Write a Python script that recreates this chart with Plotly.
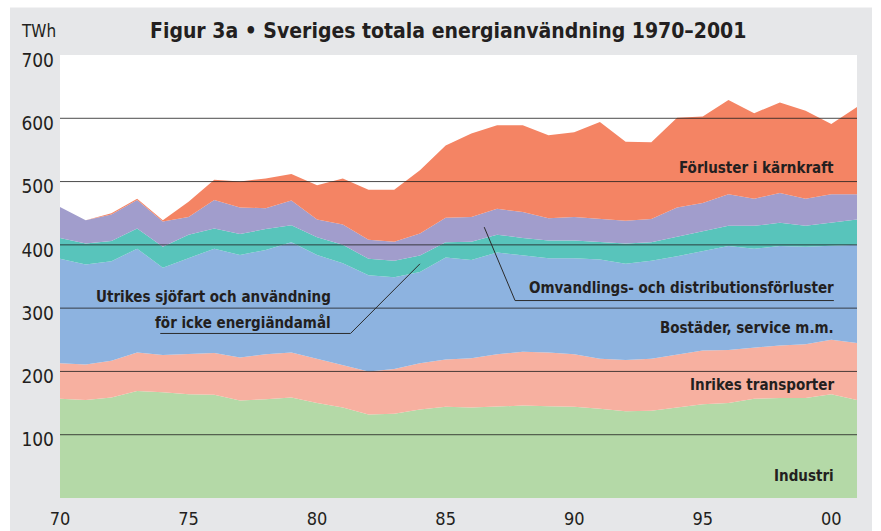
import plotly.graph_objects as go

years = list(range(1970, 2002))

industri = [157, 155, 159, 169, 167, 164, 163, 154, 156, 159, 150, 143, 132, 133, 140, 144,
            143, 145, 146, 145, 144, 141, 137, 138, 143, 148, 150, 157, 158, 158, 164, 155]
transporter = [56, 56, 58, 61, 59, 63, 66, 68, 71, 71, 70, 67, 68, 71, 73, 75,
               78, 82, 85, 85, 83, 79, 81, 82, 84, 85, 84, 81, 83, 85, 86, 90]
bostader = [165, 158, 157, 164, 138, 152, 165, 162, 165, 174, 164, 161, 152, 145, 144, 161,
            155, 161, 153, 149, 152, 157, 152, 155, 155, 157, 164, 156, 157, 154, 148, 155]
utrikes = [33, 33, 32, 32, 33, 37, 32, 33, 33, 27, 28, 29, 26, 26, 26, 24,
           29, 28, 27, 28, 28, 27, 32, 29, 31, 32, 32, 36, 37, 33, 37, 40]
omvandling = [49, 37, 42, 45, 40, 28, 45, 42, 33, 39, 28, 32, 30, 30, 35, 39,
              39, 41, 41, 35, 37, 37, 36, 37, 46, 44, 50, 43, 47, 43, 45, 40]
karnkraft = [0, 0, 2, 2, 2, 24, 32, 41, 47, 42, 54, 73, 79, 82, 100, 114,
             132, 132, 137, 131, 134, 153, 125, 121, 142, 137, 149, 135, 143, 139, 111, 138]

series_names = ["Industri", "Inrikes transporter", "Bostäder, service m.m.",
                "Utrikes sjöfart och användning för icke energiändamål",
                "Omvandlings- och distributionsförluster", "Förluster i kärnkraft"]
series_values = [industri, transporter, bostader, utrikes, omvandling, karnkraft]
series_colors = ["#b4d9a7", "#f7b0a0", "#8db3e0", "#58c4bb", "#a19dcc", "#f48464"]

y_ticks = [100, 200, 300, 400, 500, 600, 700]
grid_vals = [100, 200, 300, 400, 500, 600]
x_ticks = [1970, 1975, 1980, 1985, 1990, 1995, 2000]
x_labels = ["70", "75", "80", "85", "90", "95", "00"]

FONT = "DejaVu Sans Condensed, Liberation Sans Narrow, Arial Narrow, sans-serif"
TXT = "#231f20"

fig = go.Figure()
for name, vals, col in zip(series_names, series_values, series_colors):
    fig.add_trace(go.Scatter(x=years, y=vals, name=name, stackgroup="one", mode="lines",
                             line=dict(width=0, color=col), fillcolor=col,
                             hoverinfo="x+y+name"))

shapes = []
# white margins around the gray panel
for x0, x1, y0, y1 in [(-0.0753, -0.0627, -0.1, 1.2), (-0.1, 1.1, 1.1074, 1.2),
                       (1.0188, 1.04, -0.1, 1.2)]:
    shapes.append(dict(type="rect", xref="paper", yref="paper", x0=x0, x1=x1, y0=y0, y1=y1,
                       fillcolor="white", line=dict(width=0), layer="below"))
for g in grid_vals:
    shapes.append(dict(type="line", xref="paper", yref="y", x0=0, x1=1, y0=g, y1=g,
                       line=dict(color="rgba(30,30,30,0.8)", width=1), layer="above"))
# leader lines / underlines for labels
lc = dict(color="#2b2b2b", width=1)
shapes += [
    dict(type="line", xref="x", yref="y", x0=1973.9, x1=1981.3, y0=260, y1=260, line=lc),
    dict(type="line", xref="x", yref="y", x0=1981.3, x1=1984.0, y0=260, y1=370, line=lc),
    dict(type="line", xref="x", yref="y", x0=1987.7, x1=2000.1, y0=312, y1=312, line=lc),
    dict(type="line", xref="x", yref="y", x0=1987.7, x1=1986.5, y0=312, y1=428, line=lc),
]

ann_font = dict(family=FONT, size=15, color=TXT)
annotations = [
    dict(text="<b>Figur 3a • Sveriges totala energianvändning 1970–2001</b>", xref="paper",
         yref="paper", x=0.487, y=1.0533, xanchor="center", yanchor="middle", showarrow=False,
         font=dict(family=FONT, size=21, color=TXT)),
    dict(text="TWh", xref="paper", yref="paper", x=-0.0276, y=1.0533, xanchor="center",
         yanchor="middle", showarrow=False, font=dict(family=FONT, size=17, color=TXT)),
    dict(text="<b>Förluster i kärnkraft</b>", x=2000.2, y=521, xanchor="right", yanchor="middle",
         showarrow=False, font=ann_font),
    dict(text="<b>Omvandlings- och distributionsförluster</b>", x=2000.2, y=332, xanchor="right",
         yanchor="middle", showarrow=False, font=ann_font),
    dict(text="<b>Bostäder, service m.m.</b>", x=2000.2, y=269, xanchor="right", yanchor="middle",
         showarrow=False, font=ann_font),
    dict(text="<b>Inrikes transporter</b>", x=2000.2, y=179, xanchor="right", yanchor="middle",
         showarrow=False, font=ann_font),
    dict(text="<b>Industri</b>", x=2000.2, y=34, xanchor="right", yanchor="middle",
         showarrow=False, font=ann_font),
    dict(text="<b>Utrikes sjöfart och användning</b>", x=1980.6, y=317, xanchor="right",
         yanchor="middle", showarrow=False, font=ann_font),
    dict(text="<b>för icke energiändamål</b>", x=1980.6, y=277, xanchor="right",
         yanchor="middle", showarrow=False, font=ann_font),
]

fig.update_layout(
    width=881, height=531,
    margin=dict(l=60, r=24, t=55, b=33, pad=0, autoexpand=False),
    paper_bgcolor="#e6e7e9", plot_bgcolor="white",
    showlegend=False,
    shapes=shapes, annotations=annotations,
    xaxis=dict(range=[1970, 2001], tickvals=x_ticks, ticktext=x_labels, showgrid=False,
               zeroline=False, showline=False, ticks="", ticklabelstandoff=8, automargin=False,
               tickfont=dict(family=FONT, size=18, color=TXT), fixedrange=True),
    yaxis=dict(range=[0, 700], tickvals=y_ticks, showgrid=False, zeroline=False,
               showline=False, ticks="", ticklabelstandoff=5, ticklabelshift=5, automargin=False,
               tickfont=dict(family=FONT, size=19, color=TXT), fixedrange=True),
)

fig.write_html("out.html", config={"displayModeBar": False},
               post_script="document.body.style.margin='0px';document.body.style.overflow='hidden';")
